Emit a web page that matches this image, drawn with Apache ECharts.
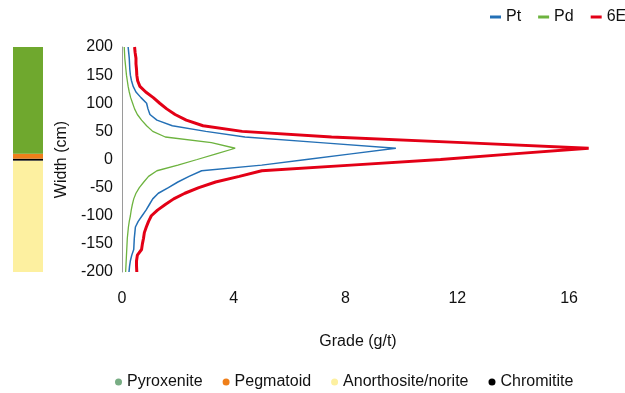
<!DOCTYPE html>
<html>
<head>
<meta charset="utf-8">
<script src="https://cdn.jsdelivr.net/npm/echarts@6/dist/echarts.min.js"></script>
<style>
  html, body { margin: 0; padding: 0; background: #fff; }
  #chart { width: 625px; height: 393px; }
</style>
</head>
<body>
<div id="chart"></div>
<script>
// 深度 (cm), 从上往下
var depth = [200, 190, 180, 170, 160, 150, 140, 130, 120, 110, 100, 90, 80, 70, 60, 50, 40, 30, 20, 10,
  0, -10, -20, -30, -40, -50, -60, -70, -80, -90, -100, -110, -120, -130, -140, -150, -160, -170, -180, -190, -200];
// 品位 g/t
var pt = [0.22, 0.24, 0.26, 0.27, 0.28, 0.3, 0.34, 0.4, 0.5, 0.68, 0.88, 0.93, 1.0, 1.25, 1.8, 3.0, 4.4, 7.1, 9.8, 8.2,
  6.6, 5.0, 2.85, 2.4, 2.0, 1.66, 1.3, 1.1, 0.98, 0.86, 0.72, 0.58, 0.48, 0.46, 0.44, 0.43, 0.42, 0.35, 0.3, 0.27, 0.25];
var pd = [0.08, 0.09, 0.1, 0.12, 0.14, 0.16, 0.19, 0.22, 0.26, 0.31, 0.38, 0.45, 0.55, 0.7, 0.88, 1.1, 1.55, 3.2, 4.05, 3.37,
  2.69, 2.0, 1.25, 0.95, 0.78, 0.62, 0.5, 0.42, 0.37, 0.33, 0.3, 0.26, 0.23, 0.21, 0.19, 0.18, 0.17, 0.16, 0.15, 0.14, 0.13];
var e6 = [0.45, 0.47, 0.5, 0.5, 0.52, 0.53, 0.56, 0.64, 0.85, 1.12, 1.35, 1.6, 1.9, 2.3, 2.9, 4.3, 7.5, 12.2, 16.7, 14.0,
  11.4, 8.2, 5.0, 4.2, 3.35, 2.75, 2.25, 1.85, 1.55, 1.27, 1.05, 0.95, 0.87, 0.8, 0.77, 0.73, 0.7, 0.55, 0.52, 0.52, 0.53];
// 岩性柱 (自下而上, 厚度 cm)
var lithoNames = ['Anorthosite/norite', 'Chromitite', 'Pegmatoid', 'Pyroxenite'];
var lithoThick = [198, 3.5, 8.9, 189.6];
var legendOrder = ['Pyroxenite', 'Pegmatoid', 'Anorthosite/norite', 'Chromitite'];

var font = 'Liberation Sans, Arial, sans-serif';
var lithoColors = {
  'Anorthosite/norite': '#fdf0a0',
  'Chromitite': '#000000',
  'Pegmatoid': '#ef7f1a',
  'Pyroxenite': '#6fa82e'
};

function pairs(vals) {
  return depth.map(function (d, i) { return [vals[i], d]; });
}

var chart = echarts.init(document.getElementById('chart'));

var series = [
  { name: 'Pt', data: pairs(pt), color: '#2470b6', lineWidth: 1.5 },
  { name: 'Pd', data: pairs(pd), color: '#6db33f', lineWidth: 1.3 },
  { name: '6E', data: pairs(e6), color: '#e30016', lineWidth: 3 }
].map(function (s) {
  return {
    name: s.name, type: 'line', xAxisIndex: 0, yAxisIndex: 0,
    data: s.data, showSymbol: false, symbol: 'none', silent: true,
    itemStyle: { color: s.color },
    lineStyle: { color: s.color, width: s.lineWidth }
  };
});

lithoNames.forEach(function (n, i) {
  series.push({
    name: n, type: 'bar', stack: 'litho', xAxisIndex: 1, yAxisIndex: 1,
    barWidth: '100%', data: [lithoThick[i]], silent: true,
    itemStyle: { color: lithoColors[n] }
  });
});

var option = {
  animation: false,
  backgroundColor: '#fff',
  textStyle: { fontFamily: font },
  grid: [
    { left: 122, top: 47, width: 503, height: 225 },
    { left: 13, top: 47, width: 30, height: 225 }
  ],
  legend: [
    {
      data: ['Pt', 'Pd', '6E'],
      left: 485, top: 4, width: 300,
      icon: 'rect', itemWidth: 11, itemHeight: 3, itemGap: 17,
      textStyle: { fontSize: 16, color: '#111', fontFamily: font }
    },
    {
      data: legendOrder.map(function (n) {
        return n === 'Pyroxenite' ? { name: n, itemStyle: { color: '#78ad84' } } : { name: n };
      }),
      left: 110, top: 369,
      icon: 'circle', itemWidth: 7, itemHeight: 7, itemGap: 20,
      textStyle: { fontSize: 16, color: '#111', fontFamily: font }
    }
  ],
  xAxis: [
    {
      type: 'value', gridIndex: 0, min: 0, max: 18, interval: 4,
      axisLine: { show: false }, axisTick: { show: false }, splitLine: { show: false },
      axisLabel: { fontSize: 16, color: '#111', margin: 19, showMaxLabel: false },
      name: 'Grade (g/t)', nameLocation: 'middle', nameGap: 62,
      nameTextStyle: { fontSize: 16, color: '#111', padding: [0, 31, 0, 0] }
    },
    { type: 'category', gridIndex: 1, data: ['log'], show: false }
  ],
  yAxis: [
    {
      type: 'value', gridIndex: 0, min: -200, max: 200, interval: 50,
      axisLine: { show: true, lineStyle: { color: '#9a9a9a', width: 1 } },
      axisTick: { show: false }, splitLine: { show: false },
      axisLabel: { fontSize: 16, color: '#111', margin: 9 },
      name: 'Width (cm)', nameLocation: 'middle', nameGap: 42,
      nameTextStyle: { fontSize: 16, color: '#111' }
    },
    { type: 'value', gridIndex: 1, min: 0, max: 400, show: false }
  ],
  series: series
};

chart.setOption(option);
</script>
</body>
</html>
